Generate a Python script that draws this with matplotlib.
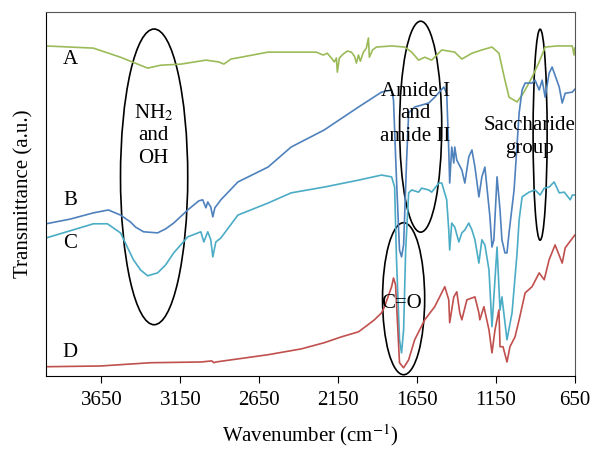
import matplotlib
matplotlib.use('Agg')
import matplotlib.pyplot as plt
from matplotlib.patches import Ellipse

plt.rcParams['font.family'] = ['Liberation Serif', 'DejaVu Serif']
plt.rcParams['mathtext.fontset'] = 'stix'

# spectra (wavenumber, transmittance a.u.)
A_wn = [4000, 3701, 3529, 3357, 3275, 3147, 2988, 2906, 2874, 2829, 2766, 2594, 2384,
        2289, 2244, 2219, 2193, 2174, 2161, 2155, 2142, 2117, 2091, 2066, 2047, 2034,
        2021, 2009, 1990, 1971, 1958, 1952, 1932, 1907, 1811, 1729, 1684, 1640, 1601,
        1557, 1493, 1411, 1366, 1302, 1239, 1175, 1131, 1093, 1067, 1035, 1016, 984,
        965, 921, 876, 838, 762, 666, 655, 650]
A_T = [90.7, 90.1, 87.6, 84.6, 85.4, 85.7, 86.8, 86.3, 85.7, 87.1, 87.6, 89.0, 89.0,
       89.0, 88.2, 88.7, 87.4, 86.3, 87.4, 83.5, 87.4, 88.5, 89.3, 89.0, 87.9, 86.0,
       88.2, 86.5, 89.0, 90.1, 92.9, 87.6, 89.6, 90.4, 90.7, 90.4, 89.0, 86.8, 87.6,
       86.8, 89.6, 89.0, 87.1, 88.7, 89.6, 90.4, 88.7, 81.3, 76.6, 75.8, 75.3, 77.2,
       78.6, 82.1, 86.3, 90.4, 90.7, 90.7, 88.2, 90.1]

B_wn = [4000, 3847, 3701, 3606, 3529, 3466, 3434, 3383, 3294, 3243, 3192, 3103, 3033,
        3008, 2988, 2976, 2957, 2944, 2931, 2893, 2785, 2594, 2448, 2238, 2021, 1875,
        1811, 1799, 1780, 1761, 1748, 1735, 1716, 1703, 1665, 1576, 1538, 1480, 1462,
        1449, 1443, 1430, 1417, 1411, 1398, 1366, 1347, 1322, 1302, 1283, 1258, 1239,
        1220, 1188, 1175, 1163, 1143, 1124, 1112, 1093, 1080, 1067, 1035, 1003, 984,
        965, 921, 902, 876, 857, 838, 813, 794, 749, 730, 711, 666, 650]
B_T = [41.8, 43.1, 44.8, 45.6, 44.2, 42.3, 40.9, 39.6, 39.3, 40.4, 42.0, 45.6, 48.1,
       48.4, 46.2, 47.8, 46.4, 43.7, 46.2, 48.4, 53.3, 57.4, 62.9, 67.6, 73.9, 78.0,
       78.6, 75.8, 53.8, 34.6, 32.7, 36.0, 59.3, 72.3, 73.9, 75.0, 76.6, 79.4, 77.7,
       62.1, 53.0, 62.9, 58.5, 62.9, 59.3, 56.6, 53.0, 60.2, 62.1, 57.4, 49.2, 54.7,
       57.4, 43.7, 35.4, 37.4, 54.7, 45.6, 37.4, 33.8, 33.8, 39.3, 51.1, 72.3, 78.6,
       80.5, 80.5, 81.3, 78.6, 81.3, 76.6, 83.2, 84.9, 79.4, 75.0, 77.7, 78.0, 78.8]

C_wn = [4000, 3701, 3612, 3529, 3447, 3402, 3357, 3294, 3243, 3192, 3103, 3020, 3001,
        2976, 2957, 2944, 2925, 2893, 2785, 2594, 2448, 2238, 2021, 1875, 1811, 1792,
        1780, 1761, 1748, 1735, 1722, 1703, 1684, 1640, 1621, 1576, 1557, 1512, 1493,
        1462, 1449, 1443, 1430, 1411, 1385, 1366, 1347, 1322, 1302, 1283, 1258, 1239,
        1220, 1194, 1175, 1143, 1124, 1112, 1080, 1048, 1016, 1003, 984, 940, 902, 870,
        844, 813, 781, 749, 717, 679, 666, 650]
C_T = [37.9, 41.8, 41.8, 39.3, 31.9, 29.1, 27.5, 28.3, 30.5, 33.8, 38.2, 39.6, 36.8,
       39.6, 37.4, 32.7, 36.8, 37.9, 44.2, 47.5, 50.3, 51.9, 53.8, 55.2, 54.7, 51.9,
       31.9, 9.9, 6.3, 12.6, 34.6, 50.3, 51.1, 50.5, 51.6, 51.1, 50.5, 53.0, 53.0,
       48.4, 40.1, 34.6, 42.0, 40.9, 36.8, 39.3, 40.1, 42.0, 40.1, 37.4, 31.0, 37.4,
       36.0, 29.1, 13.5, 35.4, 18.1, 21.7, 9.9, 17.3, 33.8, 42.9, 49.2, 50.5, 51.1, 49.7,
       51.6, 51.9, 53.3, 50.3, 50.5, 48.4, 49.7, 49.7]

D_wn = [4000, 3656, 3338, 3020, 2950, 2938, 2925, 2594, 2384, 2238, 2130, 2021, 1971,
        1920, 1875, 1856, 1811, 1799, 1786, 1761, 1735, 1703, 1665, 1601, 1538, 1474,
        1449, 1443, 1417, 1398, 1379, 1366, 1334, 1283, 1258, 1252, 1226, 1194, 1175,
        1156, 1131, 1124, 1105, 1080, 1061, 1029, 1003, 965, 921, 876, 844, 813, 775,
        730, 711, 650]
D_T = [2.5, 2.7, 3.6, 3.8, 4.1, 3.6, 3.8, 5.8, 7.4, 9.1, 10.7, 12.1, 13.7,
       15.4, 17.3, 19.0, 24.5, 26.9, 25.0, 3.6, 2.2, 4.4, 9.9, 15.4, 19.0, 24.5,
       20.9, 14.6, 21.7, 23.1, 17.3, 15.4, 20.9, 21.7, 17.3, 15.4, 19.0, 12.6, 6.3,
       12.6, 18.1, 8.0, 8.0, 3.8, 8.0, 10.7, 15.4, 22.8, 24.5, 28.3, 26.4, 31.9, 36.0,
       31.0, 35.2, 38.7]

xticks = [3650, 3150, 2650, 2150, 1650, 1150, 650]

fig = plt.figure(figsize=(5.92, 4.49), dpi=100)
ax = fig.add_axes([0.078, 0.163, 0.893, 0.81])

ax.plot(A_wn, A_T, color='#9BBB59', lw=1.2)
ax.plot(B_wn, B_T, color='#4F81BD', lw=1.2)
ax.plot(C_wn, C_T, color='#4BACC6', lw=1.2)
ax.plot(D_wn, D_T, color='#C0504D', lw=1.2)

ax.set_xlim(4000, 650)
ax.set_ylim(0, 100)
ax.set_xticks(xticks)
ax.set_yticks([])
ax.tick_params(axis='x', direction='out', length=5, labelsize=15, pad=6)

for s in ['top', 'right']:
    ax.spines[s].set_color('#555555')
for s in ['left', 'bottom']:
    ax.spines[s].set_color('black')

ax.set_xlabel('Wavenumber (cm$^{-1}$)', fontsize=15, labelpad=9)
ax.set_ylabel('Transmittance (a.u.)', fontsize=15, labelpad=9)

# ellipses around regions
for cx, cy, w, h in [(3316, 54.7, 426, 81.3), (1627, 68.5, 267, 58.0),
                     (870, 66.3, 89, 58.0), (1735, 21.2, 267, 41.8)]:
    ax.add_patch(Ellipse((cx, cy), w, h, fill=False, ec='black', lw=1.2))

for lab, y in zip(['A', 'B', 'C', 'D'], [87.1, 48.1, 36.5, 6.3]):
    ax.text(3847, y, lab, fontsize=15, ha='center', va='center')

ax.text(3319, 66.2, 'NH$_2$\nand\nOH', fontsize=15, ha='center', va='center',
        linespacing=1.25)
ax.text(1659, 72.0, 'Amide I\nand\namide II', fontsize=15, ha='center', va='center',
        linespacing=1.25)
ax.text(940, 65.7, 'Saccharide\ngroup', fontsize=15, ha='center', va='center',
        linespacing=1.25)
ax.text(1748, 19.8, 'C=O', fontsize=15, ha='center', va='center')

fig.savefig('out.png', dpi=100)
